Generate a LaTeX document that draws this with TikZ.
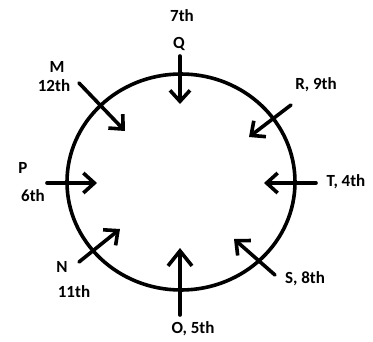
\documentclass[tikz,border=0pt]{standalone}
\usepackage{fontspec}
\setmainfont{Carlito}
\usetikzlibrary{arrows.meta}

\begin{document}
\begin{tikzpicture}[x=1pt,y=-1pt,
    pin/.style={line width=3.6pt,line cap=round,
      -{Straight Barb[length=11pt,width=20pt,line width=3.6pt]}},
    lbl/.style={font=\fontsize{17}{19}\selectfont\bfseries,inner sep=0pt}]
  \useasboundingbox (0,0) rectangle (373,341);
  \draw[line width=3.6pt] (181,182) ellipse [x radius=114, y radius=108];
  % labels
  \node[lbl] (q7) at (182,16) {7th};
  \node[lbl] (q) at (179,44) {Q};
  \node[lbl] (m) at (57,67) {M};
  \node[lbl] (m12) at (54,86) {12th};
  \node[lbl] (r) at (316,85) {R, 9th};
  \node[lbl] (p) at (23,168) {P};
  \node[lbl] (p6) at (33,196) {6th};
  \node[lbl] (t) at (346,182) {T, 4th};
  \node[lbl] (n) at (62,267) {N};
  \node[lbl] (n11) at (74,292) {11th};
  \node[lbl] (s) at (305,279) {S, 8th};
  \node[lbl] (o) at (193,329) {O, 5th};
  % arrow ends
  \coordinate (qa) at (180,56);   \coordinate (qb) at (180,104);
  \coordinate (ma) at (79,83);    \coordinate (mb) at (125,131);
  \coordinate (ra) at (291,105);  \coordinate (rb) at (249,137);
  \coordinate (pa) at (47,183);   \coordinate (pb) at (97,183);
  \coordinate (ta) at (316,183);  \coordinate (tb) at (264,183);
  \coordinate (na) at (79,262);   \coordinate (nb) at (120,229);
  \coordinate (sa) at (275,275);  \coordinate (sb) at (234,239);
  \coordinate (oa) at (180,315);  \coordinate (ob) at (180,248);
  \foreach \a/\b in {qa/qb,ma/mb,ra/rb,pa/pb,ta/tb,na/nb,sa/sb}
    \draw[pin] (\a) -- (\b);
  \draw[pin,-{Straight Barb[length=15pt,width=24pt,line width=3.6pt]}] (oa) -- (ob);
\end{tikzpicture}
\end{document}
